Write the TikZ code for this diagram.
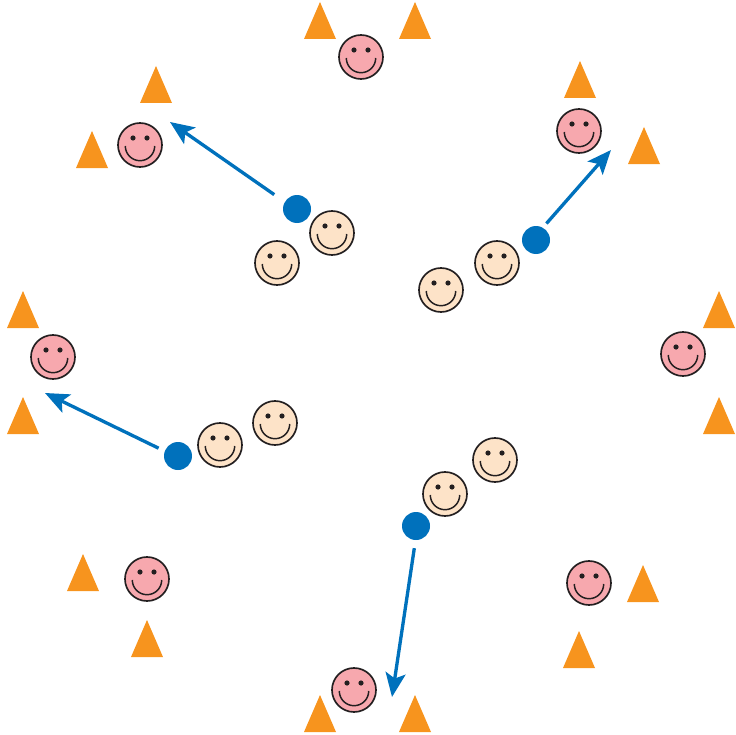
\documentclass[tikz,border=0pt]{standalone}
\usetikzlibrary{arrows.meta}
\definecolor{facepink}{HTML}{F7A8AE}
\definecolor{facetan}{HTML}{FDE3C8}
\definecolor{coneorange}{HTML}{F7941E}
\definecolor{dotblue}{HTML}{0071BC}
\definecolor{inkline}{HTML}{231F20}
\tikzset{x=0.75pt, y=-0.75pt,
  face/.pic={
    \draw[inkline, line width=1.25pt, fill=#1] (0,0) circle(22);
    \fill[inkline] (-7,-7) circle(2.6);
    \fill[inkline] ( 7,-7) circle(2.6);
    \draw[inkline, line width=1.1pt] (-14.7,1) arc[start angle=180, end angle=0, radius=14.7];
  },
  cone/.pic={\fill[coneorange] (-16,18.5) -- (0,-18.5) -- (16,18.5) -- cycle;},
  dot/.style={circle, fill=dotblue, minimum size=21pt, inner sep=0pt},
  move/.style={dotblue, line width=2.5pt, -{Stealth[length=18pt, width=15pt, inset=4pt]}}}

\begin{document}
\begin{tikzpicture}
  \useasboundingbox (0,0) rectangle (736,735);
  % cones
  \pic at (320,20.5) {cone};
  \pic at (415,20.5) {cone};
  \pic at (156,84.5) {cone};
  \pic at (92,149.5) {cone};
  \pic at (580,79.5) {cone};
  \pic at (644,145.5) {cone};
  \pic at (23,309.5) {cone};
  \pic at (23,415.5) {cone};
  \pic at (719,309.5) {cone};
  \pic at (719,415.5) {cone};
  \pic at (83,572.5) {cone};
  \pic at (147,638.5) {cone};
  \pic at (643,583.5) {cone};
  \pic at (579,649.5) {cone};
  \pic at (320,713.5) {cone};
  \pic at (415,713.5) {cone};
  % outer faces
  \pic at (361,57) {face=facepink};
  \pic at (140,145) {face=facepink};
  \pic at (579,131) {face=facepink};
  \pic at (53,357) {face=facepink};
  \pic at (683,354) {face=facepink};
  \pic at (147,579) {face=facepink};
  \pic at (589,583) {face=facepink};
  \pic at (354,690) {face=facepink};
  % inner faces
  \pic at (277,263) {face=facetan};
  \pic at (332,233) {face=facetan};
  \pic at (441,290) {face=facetan};
  \pic at (497,263) {face=facetan};
  \pic at (220,445) {face=facetan};
  \pic at (275,423) {face=facetan};
  \pic at (445,494) {face=facetan};
  \pic at (495,460) {face=facetan};
  % dots
  \node[dot] (dota) at (297,209) {};
  \node[dot] (dotb) at (536,240) {};
  \node[dot] (dotc) at (178,456) {};
  \node[dot] (dotd) at (416,526) {};
  % arrow ends
  \coordinate (tipa) at (170,122);
  \coordinate (tipb) at (611,150);
  \coordinate (tipc) at (45,393);
  \coordinate (tipd) at (392,697);
  \draw[move, shorten <=9.5pt] (dota.150) -- (tipa);
  \draw[move, shorten <=4pt] (dotb.61) -- (tipb);
  \draw[move, shorten <=5pt] (dotc.160) -- (tipc);
  \draw[move, shorten <=6pt] (dotd.268) -- (tipd);
\end{tikzpicture}
\end{document}
